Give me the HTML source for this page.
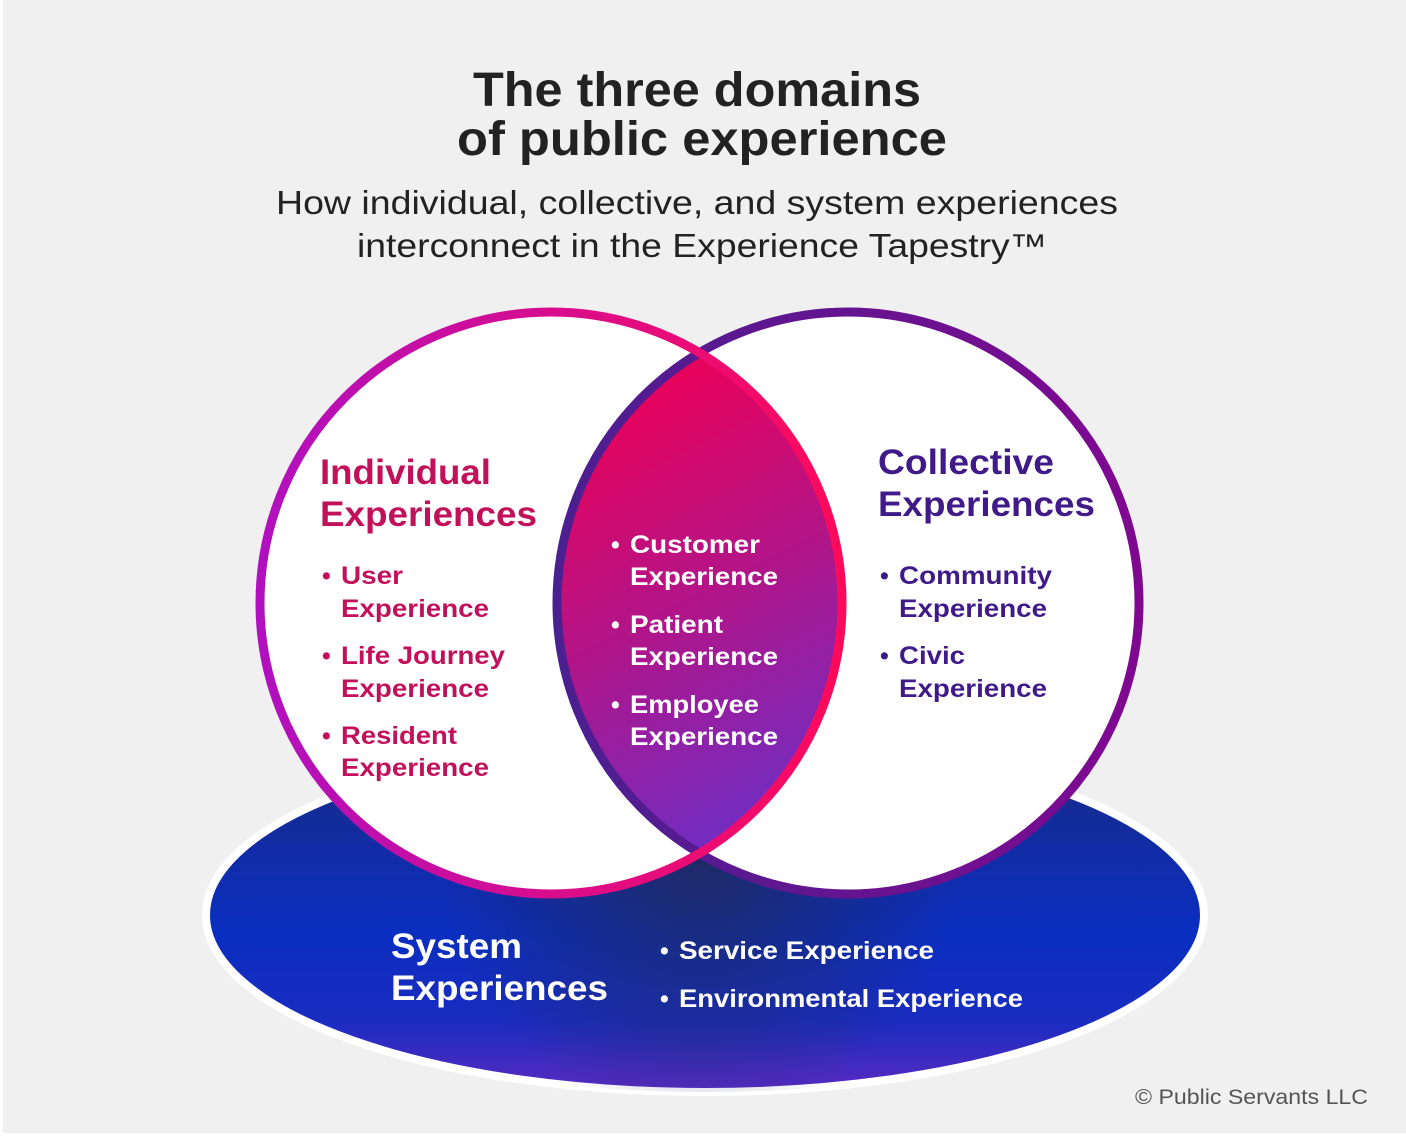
<!DOCTYPE html>
<html><head><meta charset="utf-8"><style>
html,body{margin:0;padding:0;background:#fff;}
svg{display:block;}
text{font-family:"Liberation Sans",sans-serif;font-weight:bold;}
</style></head><body>
<svg width="1406" height="1136" viewBox="0 0 1406 1136" xmlns="http://www.w3.org/2000/svg">
<defs>
<linearGradient id="ell" x1="0" y1="0" x2="0" y2="1">
<stop offset="0" stop-color="#1a2a80"/>
<stop offset="0.55" stop-color="#0a2ec0"/>
<stop offset="0.8" stop-color="#1a2cc0"/>
<stop offset="1" stop-color="#5a2ac0"/>
</linearGradient>
<radialGradient id="shadow" cx="700" cy="860" r="260" gradientUnits="userSpaceOnUse">
<stop offset="0" stop-color="#202a60" stop-opacity="0.9"/>
<stop offset="1" stop-color="#202a60" stop-opacity="0"/>
</radialGradient>
<linearGradient id="lens" x1="600" y1="380" x2="820" y2="820" gradientUnits="userSpaceOnUse">
<stop offset="0" stop-color="#ee0055"/>
<stop offset="0.5" stop-color="#b0158a"/>
<stop offset="1" stop-color="#6a30c8"/>
</linearGradient>
<linearGradient id="lstroke" x1="256" y1="0" x2="846" y2="0" gradientUnits="userSpaceOnUse">
<stop offset="0" stop-color="#b010c0"/>
<stop offset="1" stop-color="#ff0a5a"/>
</linearGradient>
<linearGradient id="rstroke" x1="552" y1="0" x2="1143" y2="0" gradientUnits="userSpaceOnUse">
<stop offset="0" stop-color="#4a2090"/>
<stop offset="1" stop-color="#800890"/>
</linearGradient>
<clipPath id="lc"><circle cx="551" cy="603" r="291"/></clipPath>
</defs>
<rect x="3" y="0" width="1403" height="1133" fill="#f0f0f0"/>
<ellipse cx="705" cy="915" rx="499" ry="177" fill="url(#ell)" stroke="#fff" stroke-width="8"/>
<ellipse cx="705" cy="915" rx="499" ry="177" fill="url(#shadow)"/>
<circle cx="551" cy="603" r="291" fill="#fff"/>
<circle cx="848" cy="603" r="291" fill="#fff"/>
<circle cx="848" cy="603" r="291" fill="url(#lens)" clip-path="url(#lc)"/>
<circle cx="848" cy="603" r="291" fill="none" stroke="url(#rstroke)" stroke-width="9"/>
<circle cx="551" cy="603" r="291" fill="none" stroke="url(#lstroke)" stroke-width="9"/>

<text x="697" y="106" font-size="48" fill="#222" text-anchor="middle" textLength="448" lengthAdjust="spacingAndGlyphs">The three domains</text>
<text x="702" y="155" font-size="48" fill="#222" text-anchor="middle" textLength="490" lengthAdjust="spacingAndGlyphs">of public experience</text>
<text x="697" y="214" font-size="33" fill="#222" text-anchor="middle" style="font-weight:normal" textLength="842" lengthAdjust="spacingAndGlyphs">How individual, collective, and system experiences</text>
<text x="702" y="257" font-size="33" fill="#222" text-anchor="middle" style="font-weight:normal" textLength="690" lengthAdjust="spacingAndGlyphs">interconnect in the Experience Tapestry™</text>

<g fill="#c2105a">
<text x="320" y="484" font-size="35" textLength="171" lengthAdjust="spacingAndGlyphs">Individual</text>
<text x="320" y="526" font-size="35" textLength="217" lengthAdjust="spacingAndGlyphs">Experiences</text>
<g font-size="25">
<text x="322" y="584">•</text><text x="341" y="584" textLength="62" lengthAdjust="spacingAndGlyphs">User</text>
<text x="341" y="617" textLength="148" lengthAdjust="spacingAndGlyphs">Experience</text>
<text x="322" y="664">•</text><text x="341" y="664" textLength="164" lengthAdjust="spacingAndGlyphs">Life Journey</text>
<text x="341" y="697" textLength="148" lengthAdjust="spacingAndGlyphs">Experience</text>
<text x="322" y="744">•</text><text x="341" y="744" textLength="116" lengthAdjust="spacingAndGlyphs">Resident</text>
<text x="341" y="776" textLength="148" lengthAdjust="spacingAndGlyphs">Experience</text>
</g></g>

<g fill="#fff" font-size="25">
<text x="611" y="553">•</text><text x="630" y="553" textLength="130" lengthAdjust="spacingAndGlyphs">Customer</text>
<text x="630" y="585" textLength="148" lengthAdjust="spacingAndGlyphs">Experience</text>
<text x="611" y="633">•</text><text x="630" y="633" textLength="93" lengthAdjust="spacingAndGlyphs">Patient</text>
<text x="630" y="665" textLength="148" lengthAdjust="spacingAndGlyphs">Experience</text>
<text x="611" y="713">•</text><text x="630" y="713" textLength="129" lengthAdjust="spacingAndGlyphs">Employee</text>
<text x="630" y="745" textLength="148" lengthAdjust="spacingAndGlyphs">Experience</text>
</g>

<g fill="#3f1a88">
<text x="878" y="474" font-size="35" textLength="176" lengthAdjust="spacingAndGlyphs">Collective</text>
<text x="878" y="516" font-size="35" textLength="217" lengthAdjust="spacingAndGlyphs">Experiences</text>
<g font-size="25">
<text x="880" y="584">•</text><text x="899" y="584" textLength="153" lengthAdjust="spacingAndGlyphs">Community</text>
<text x="899" y="617" textLength="148" lengthAdjust="spacingAndGlyphs">Experience</text>
<text x="880" y="664">•</text><text x="899" y="664" textLength="66" lengthAdjust="spacingAndGlyphs">Civic</text>
<text x="899" y="697" textLength="148" lengthAdjust="spacingAndGlyphs">Experience</text>
</g></g>

<g fill="#fff">
<text x="391" y="958" font-size="35" textLength="131" lengthAdjust="spacingAndGlyphs">System</text>
<text x="391" y="1000" font-size="35" textLength="217" lengthAdjust="spacingAndGlyphs">Experiences</text>
<g font-size="25">
<text x="660" y="959">•</text><text x="679" y="959" textLength="255" lengthAdjust="spacingAndGlyphs">Service Experience</text>
<text x="660" y="1007">•</text><text x="679" y="1007" textLength="344" lengthAdjust="spacingAndGlyphs">Environmental Experience</text>
</g></g>

<text x="1135" y="1104" font-size="21" fill="#555" style="font-weight:normal" textLength="233" lengthAdjust="spacingAndGlyphs">© Public Servants LLC</text>
</svg>
</body></html>
